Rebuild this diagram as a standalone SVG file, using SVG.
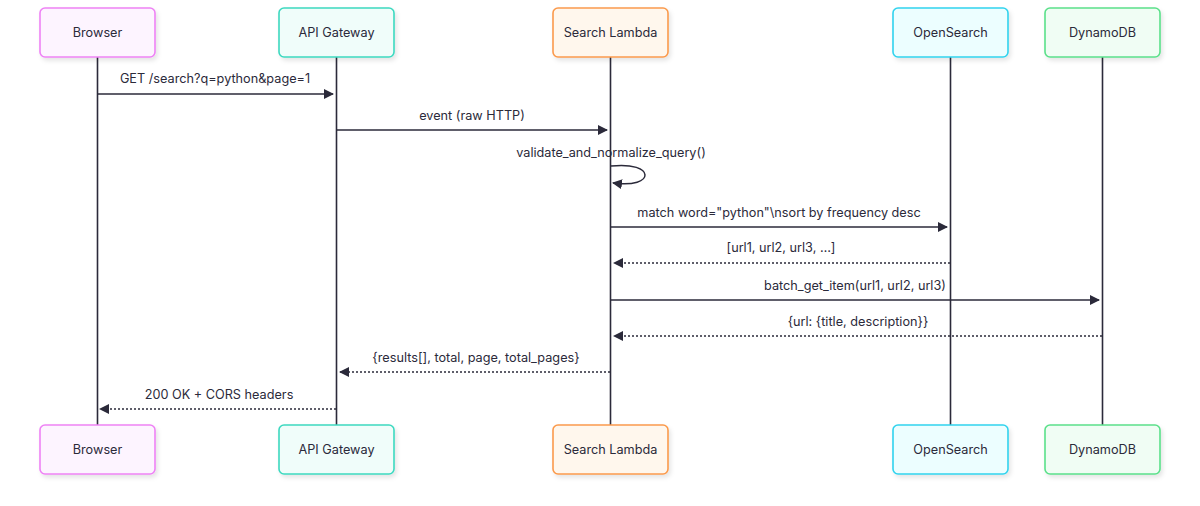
<svg xmlns="http://www.w3.org/2000/svg" width="1200" height="506" viewBox="0 0 1200 506">
<defs>
<filter id="sh" x="-10%" y="-10%" width="130%" height="140%">
<feDropShadow dx="2" dy="3" stdDeviation="2" flood-color="#000" flood-opacity="0.10"/>
</filter>
<marker id="ah" viewBox="0 0 10 10" refX="9" refY="5" markerWidth="10" markerHeight="10" markerUnits="userSpaceOnUse" orient="auto">
<path d="M0,0 L10,5 L0,10 z" fill="#2b2a3a"/>
</marker>
</defs>
<style>
text{font-family:Inter,"Noto Sans","Liberation Sans",sans-serif;font-size:12.7px;fill:#2b2a3a;text-anchor:middle}
.box{stroke-width:1.6;filter:url(#sh)}
.life{stroke:#2b2a3a;stroke-width:1.6;fill:none}
.msg{stroke:#2b2a3a;stroke-width:1.5;fill:none;marker-end:url(#ah)}
.dot{stroke-dasharray:2 2}
.c1{fill:#fdf4ff;stroke:#ee82f5}
.c2{fill:#f0fdfa;stroke:#3dd9c0}
.c3{fill:#fff7ed;stroke:#fb9a4c}
.c4{fill:#ecfeff;stroke:#30d3ee}
.c5{fill:#f0fdf4;stroke:#5be08a}
</style>
<rect width="1200" height="506" fill="#fff"/>
<g id="lifelines">
<line class="life" x1="97.5" y1="57" x2="97.5" y2="425"/>
<line class="life" x1="336.5" y1="57" x2="336.5" y2="425"/>
<line class="life" x1="610.5" y1="57" x2="610.5" y2="425"/>
<line class="life" x1="950.5" y1="57" x2="950.5" y2="425"/>
<line class="life" x1="1102.5" y1="57" x2="1102.5" y2="425"/>
</g>
<g id="browser-top"><rect class="box c1" x="40" y="8" width="115" height="49" rx="5"/><text x="97.5" y="37">Browser</text></g>
<g id="apigw-top"><rect class="box c2" x="279" y="8" width="115" height="49" rx="5"/><text x="336.5" y="37">API Gateway</text></g>
<g id="lambda-top"><rect class="box c3" x="553" y="8" width="115" height="49" rx="5"/><text x="610.5" y="37">Search Lambda</text></g>
<g id="opensearch-top"><rect class="box c4" x="893" y="8" width="115" height="49" rx="5"/><text x="950.5" y="37">OpenSearch</text></g>
<g id="dynamo-top"><rect class="box c5" x="1045" y="8" width="115" height="49" rx="5"/><text x="1102.5" y="37">DynamoDB</text></g>
<g id="browser-bottom"><rect class="box c1" x="40" y="425" width="115" height="49" rx="5"/><text x="97.5" y="454">Browser</text></g>
<g id="apigw-bottom"><rect class="box c2" x="279" y="425" width="115" height="49" rx="5"/><text x="336.5" y="454">API Gateway</text></g>
<g id="lambda-bottom"><rect class="box c3" x="553" y="425" width="115" height="49" rx="5"/><text x="610.5" y="454">Search Lambda</text></g>
<g id="opensearch-bottom"><rect class="box c4" x="893" y="425" width="115" height="49" rx="5"/><text x="950.5" y="454">OpenSearch</text></g>
<g id="dynamo-bottom"><rect class="box c5" x="1045" y="425" width="115" height="49" rx="5"/><text x="1102.5" y="454">DynamoDB</text></g>
<g id="connectors">
<line class="msg" x1="97.5" y1="94" x2="333" y2="94"/>
<text x="215" y="83">GET /search?q=python&amp;page=1</text>
<line class="msg" x1="336.5" y1="130" x2="607" y2="130"/>
<text x="472" y="120">event (raw HTTP)</text>
<path class="msg" d="M611,166 C656,161 656,189 613,183"/>
<text x="611" y="157">validate_and_normalize_query()</text>
<line class="msg" x1="610.5" y1="227" x2="947" y2="227"/>
<text x="779" y="217">match word="python"\nsort by frequency desc</text>
<line class="msg dot" x1="950" y1="263" x2="614" y2="263"/>
<text x="781" y="252">[url1, url2, url3, …]</text>
<line class="msg" x1="610.5" y1="300" x2="1099" y2="300"/>
<text x="855" y="290">batch_get_item(url1, url2, url3)</text>
<line class="msg dot" x1="1102" y1="336" x2="614" y2="336"/>
<text x="858" y="326">{url: {title, description}}</text>
<line class="msg dot" x1="610" y1="372" x2="340" y2="372"/>
<text x="476" y="362">{results[], total, page, total_pages}</text>
<line class="msg dot" x1="336" y1="409" x2="100" y2="409"/>
<text x="219" y="399">200 OK + CORS headers</text>
</g>
</svg>
